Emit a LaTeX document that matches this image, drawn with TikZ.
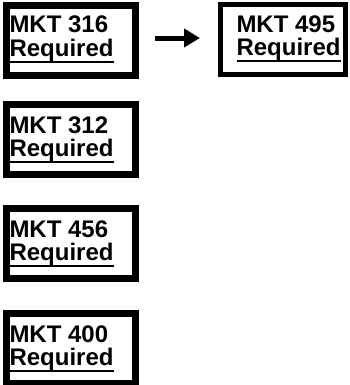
\documentclass[tikz,border=0pt]{standalone}
\usepackage{fontspec}
\newfontfamily\lblfont{Liberation Sans Bold}
\usetikzlibrary{arrows.meta}
\begin{document}
\begin{tikzpicture}[x=1bp,y=-1bp,
  boxL/.style={draw=black,line width=7bp,minimum width=129bp,minimum height=70bp,inner sep=0pt,outer sep=0pt},
  boxR/.style={draw=black,line width=5bp,minimum width=125bp,minimum height=70bp,inner sep=0pt,outer sep=0pt},
  lbl/.style={anchor=base west,inner sep=0pt,outer sep=0pt,font=\lblfont\fontsize{24bp}{24bp}\selectfont},
  uline/.style={line width=2bp,line cap=butt},
  conn/.style={line width=5bp,-{Triangle[length=16bp,width=18bp]}}]
\useasboundingbox (0,0) rectangle (350,385);
% boxes
\node[boxL] (b316) at (71,40.5) {};
\node[boxL] (b312) at (71,139) {};
\node[boxL] (b456) at (71,243.5) {};
\node[boxL] (b400) at (71,348.5) {};
\node[boxR] (b495) at (283,39.5) {};
% texts
\node[lbl] (t316) at (9.5,32) {MKT 316};
\node[lbl] (r316) at (9.5,56) {Required};
\node[lbl] (t312) at (9.5,133) {MKT 312};
\node[lbl] (r312) at (9.5,156) {Required};
\node[lbl] (t456) at (9.5,237) {MKT 456};
\node[lbl] (r456) at (9.5,260) {Required};
\node[lbl] (t400) at (9.5,342) {MKT 400};
\node[lbl] (r400) at (9.5,365) {Required};
\node[lbl] (t495) at (236.5,32) {MKT 495};
\node[lbl] (r495) at (236.5,55) {Required};
% underlines
\foreach \n in {r316,r312,r456,r400,r495}{
  \draw[uline] ([yshift=-6bp]\n.base west) -- ([yshift=-6bp]\n.base east);
}
% arrow
\coordinate (as) at (155,38);
\coordinate (ae) at (200,38);
\draw[conn] (as) -- (ae);
\end{tikzpicture}
\end{document}
